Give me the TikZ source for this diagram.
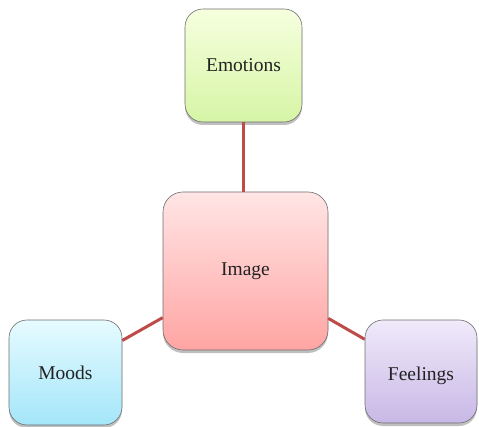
\documentclass[tikz,border=0pt]{standalone}
\usepackage{fontspec}
\setmainfont{Liberation Serif}
\usetikzlibrary{shadows}
\definecolor{linkred}{HTML}{BE4B48}
\definecolor{edgegray}{HTML}{6E6E6E}
\definecolor{txt}{HTML}{222222}
\tikzset{
  box/.style={draw=edgegray, line width=0.6pt, rounded corners=#1, text=txt,
    inner sep=0pt, font=\fontsize{19.5}{23}\selectfont,
    drop shadow={shadow xshift=0pt, shadow yshift=-3pt, opacity=0.25, fill=black}},
  box/.default=18pt,
  link/.style={draw=linkred, line width=3pt}
}
\begin{document}
\begin{tikzpicture}[x=1pt,y=1pt]
\useasboundingbox (0,0) rectangle (479,426);
\node[box=20pt, minimum width=165pt, minimum height=158pt, top color=red!10!white, bottom color={rgb,255:red,255;green,165;blue,163}] (img) at (245.5,155) {Image};
\node[box, minimum width=117pt, minimum height=113pt, top color={rgb,255:red,246;green,255;blue,222}, bottom color={rgb,255:red,214;green,245;blue,166}] (emo) at (243.5,360.5) {Emotions};
\node[box, minimum width=113pt, minimum height=105pt, top color={rgb,255:red,230;green,251;blue,255}, bottom color={rgb,255:red,164;green,230;blue,250}] (moods) at (65.5,53.5) {Moods};
\node[box, minimum width=112pt, minimum height=103pt, top color={rgb,255:red,240;green,234;blue,250}, bottom color={rgb,255:red,200;green,184;blue,230}] (feel) at (421,54.5) {\raisebox{-9pt}[0pt][0pt]{Feelings}};
\path[link] (emo) -- (emo |- img.north);
\path[link] (img) -- (moods);
\path[link] (img) -- (feel);
\end{tikzpicture}
\end{document}
